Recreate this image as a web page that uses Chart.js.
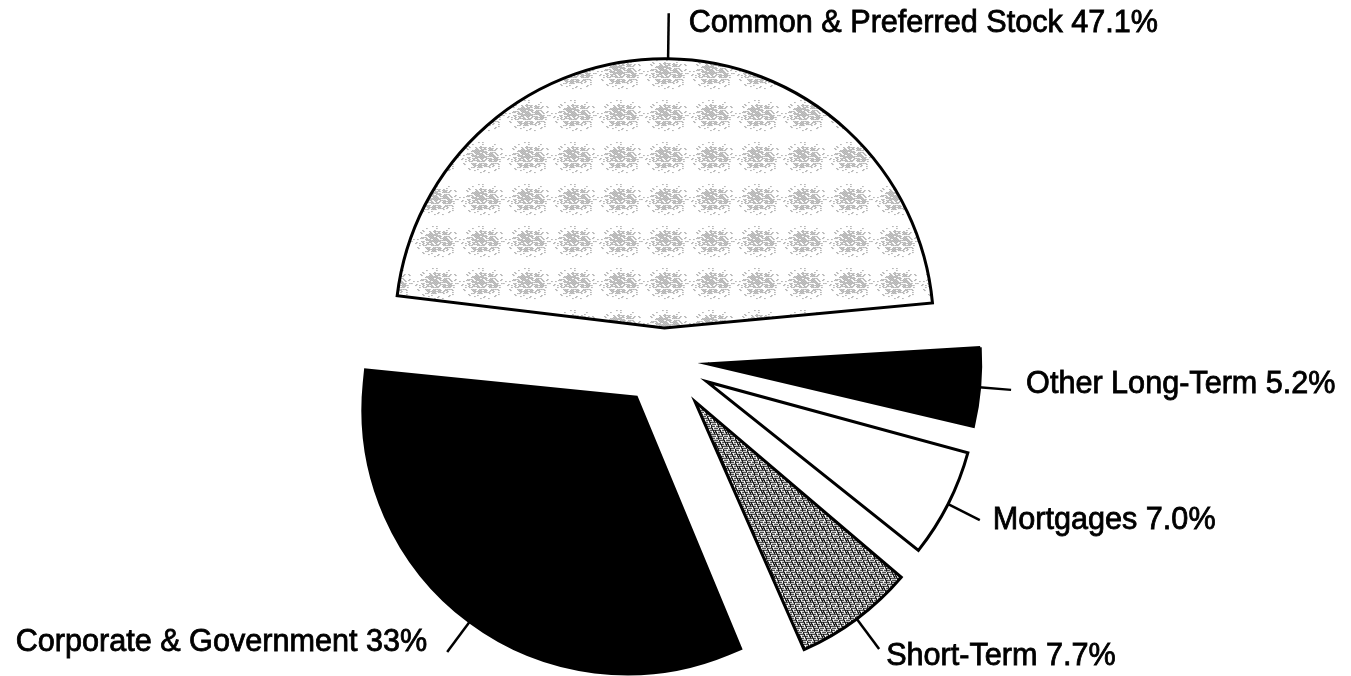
<!DOCTYPE html>
<html>
<head>
<meta charset="utf-8">
<script src="https://cdn.jsdelivr.net/npm/chart.js@4.4.1/dist/chart.umd.min.js"></script>
<style>
  html, body { margin: 0; padding: 0; background: #fff; }
  #wrap { width: 1351px; height: 676px; }
</style>
</head>
<body>
<div id="wrap"><canvas id="chart" width="1351" height="676"></canvas></div>
<script>
// Данные: доли портфеля, по часовой стрелке начиная с верхнего сектора
const categories = ["Common & Preferred Stock", "Other Long-Term", "Mortgages", "Short-Term", "Corporate & Government"];
const shares = [47.1, 5.2, 7.0, 7.7, 33];
const shareLabels = ["47.1%", "5.2%", "7.0%", "7.7%", "33%"];

// Светлая "крапчатая" заливка для большого сектора
function stipplePattern() {
  const c = document.createElement("canvas");
  c.width = 46;
  c.height = 42;
  const g = c.getContext("2d");
  g.fillStyle = "#fff";
  g.fillRect(0, 0, c.width, c.height);
  g.fillStyle = "#7a7a7a";
  for (let y = 0; y < c.height; y++) {
    for (let x = 0; x < c.width; x++) {
      const dx = (x - 23) / 16, dy = (y - 21) / 11;
      const d = dx * dx + dy * dy;
      const h = (x * 73 + y * 151 + x * y * 7) % 17;
      if ((x + y) % 2 !== 0) continue;
      if (d < 1 && h < 12) g.fillRect(x, y, 1, 1);
      else if (d < 2 && h < 3) g.fillRect(x, y, 1, 1);
    }
  }
  return g.createPattern(c, "repeat");
}

// Тёмная штриховка горизонтальными линиями
function hatchPattern() {
  const c = document.createElement("canvas");
  c.width = 12;
  c.height = 12;
  const g = c.getContext("2d");
  g.fillStyle = "#fff";
  g.fillRect(0, 0, 12, 12);
  g.fillStyle = "#111";
  for (let y = 0; y < 12; y++) {
    for (let x = 0; x < 12; x++) {
      if (y % 2 === 0) {
        if ((x * 5 + y * 3) % 7 !== 0) g.fillRect(x, y, 1, 1);
      } else if ((x + y * 2) % 5 === 0) {
        g.fillRect(x, y, 1, 1);
      }
    }
  }
  return g.createPattern(c, "repeat");
}

const fills = [stipplePattern(), "#000", "#fff", hatchPattern(), "#000"];
const offsets = [128, 176, 192, 208, 248];
const borders = [3, 3, 3, 3, 30];
const leaderLen = [44, 30, 34, 36, 36];
// небольшие сдвиги подписей относительно конца выноски
const labelShift = [[0, 0], [-2, -8], [-4, -2], [-10, 5], [0, -6]];

// Подписи с выносками, считаются от геометрии самих секторов
const leaderPlugin = {
  id: "leaders",
  afterDatasetsDraw(chart) {
    const ctx = chart.ctx;
    const meta = chart.getDatasetMeta(0);
    ctx.save();
    ctx.strokeStyle = "#000";
    ctx.fillStyle = "#000";
    ctx.font = "30.6px 'Liberation Sans', Arial, sans-serif";
    meta.data.forEach((arc, i) => {
      const p = arc.getProps(["x", "y", "startAngle", "endAngle", "outerRadius", "circumference"], true);
      const o = (arc.options.offset || 0) / 4;
      const mid = (p.startAngle + p.endAngle) / 2;
      const cx = p.x + Math.cos(mid) * o;
      const cy = p.y + Math.sin(mid) * o;
      const r = p.outerRadius + o * (1 - Math.sin(Math.min(Math.PI, p.circumference))) + arc.options.borderWidth / 2;
      const x1 = cx + Math.cos(mid) * (r - 2);
      const y1 = cy + Math.sin(mid) * (r - 2);
      const x2 = cx + Math.cos(mid) * (r + leaderLen[i]);
      const y2 = cy + Math.sin(mid) * (r + leaderLen[i]);
      ctx.lineWidth = 2.5;
      ctx.beginPath();
      ctx.moveTo(x1, y1);
      ctx.lineTo(x2, y2);
      ctx.stroke();
      const text = categories[i] + " " + shareLabels[i];
      let tx, ty;
      if (Math.abs(Math.cos(mid)) < 0.2) {
        ctx.textAlign = "left";
        tx = x2 + 20;
        ty = y2 + 19;
      } else if (Math.cos(mid) > 0) {
        ctx.textAlign = "left";
        tx = x2 + 17;
        ty = y2 + 11;
      } else {
        ctx.textAlign = "right";
        tx = x2 - 20;
        ty = y2 + 5;
      }
      tx += labelShift[i][0];
      ty += labelShift[i][1];
      ctx.textBaseline = "alphabetic";
      ctx.lineWidth = 0.8;
      ctx.fillText(text, tx, ty);
      ctx.strokeText(text, tx, ty);
    });
    ctx.restore();
  }
};

const ctx = document.getElementById("chart");
new Chart(ctx, {
  type: "pie",
  data: {
    labels: categories,
    datasets: [{
      data: shares,
      backgroundColor: fills,
      borderColor: "#000",
      borderWidth: borders,
      borderJoinStyle: "miter",
      offset: offsets,
    }],
  },
  options: {
    responsive: false,
    animation: false,
    rotation: -84,
    radius: 243,
    layout: { padding: { left: 0, right: 23, top: 44, bottom: 0 } },
    plugins: {
      legend: { display: false },
      tooltip: { enabled: false },
    },
  },
  plugins: [leaderPlugin],
});
</script>
</body>
</html>
